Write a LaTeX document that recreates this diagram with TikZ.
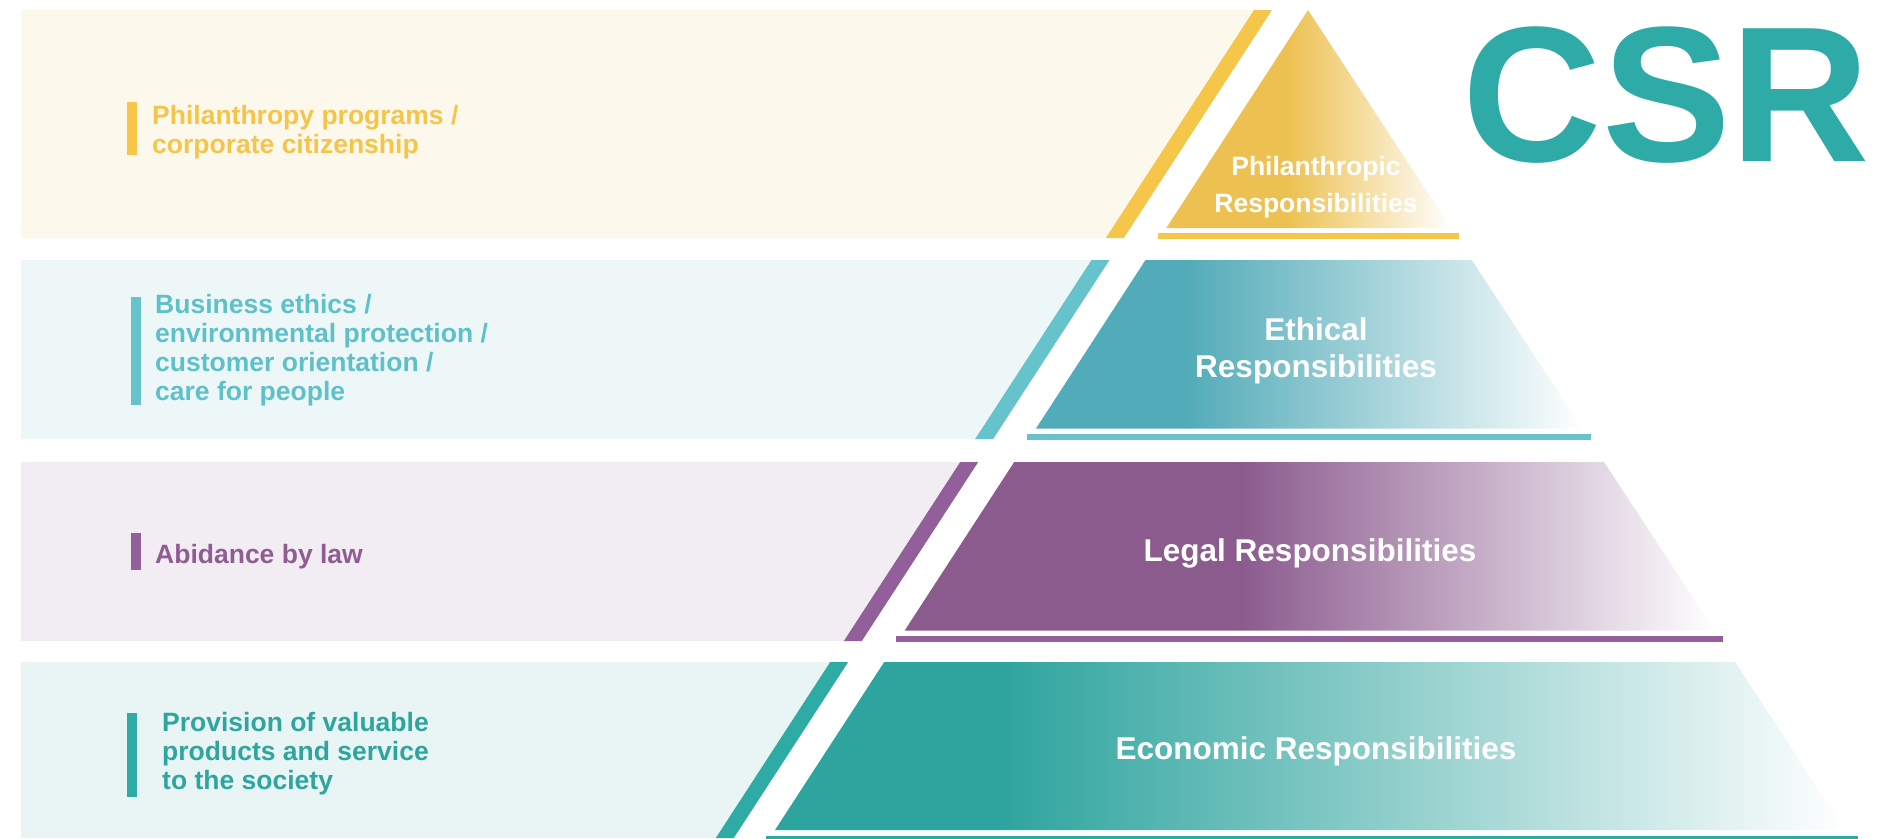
\documentclass[tikz,border=0pt]{standalone}
\usepackage{fontspec}
\setmainfont{Liberation Sans}
\definecolor{yelband}{HTML}{FCF8EC}
\definecolor{yelstripe}{HTML}{F6C64B}
\definecolor{yeltri}{HTML}{EDC151}
\definecolor{yeltext}{HTML}{F5C54A}
\definecolor{ethband}{HTML}{EEF7F8}
\definecolor{ethstripe}{HTML}{66C2CB}
\definecolor{ethtrap}{HTML}{52ABB8}
\definecolor{ethtext}{HTML}{5EC0C9}
\definecolor{legband}{HTML}{F2EDF3}
\definecolor{legstripe}{HTML}{935F9B}
\definecolor{legtrap}{HTML}{8B5B8E}
\definecolor{legtext}{HTML}{8F5D94}
\definecolor{ecoband}{HTML}{E9F4F4}
\definecolor{ecostripe}{HTML}{2EABA5}
\definecolor{ecotrap}{HTML}{2EA49E}
\definecolor{ecotext}{HTML}{2FA59F}
\definecolor{csrcol}{HTML}{2EABA7}
\begin{document}
\begin{tikzpicture}[x=1pt,y=-1pt,
  bandtext/.style={font=\fontsize{26.5}{29}\selectfont\bfseries, align=left, inner sep=0pt, anchor=west},
  tiertext/.style={font=\fontsize{31.5}{37.5}\selectfont\bfseries, text=white, align=center, inner sep=0pt},
  tagbar/.style={fill=#1}
]
\useasboundingbox (0,0) rectangle (1878,838);

% ---------- Tier 1: philanthropic ----------
\fill[yelband] (21,10) -- (1254,10) -- (1105.8,238) -- (21,238) -- cycle;
\fill[yelstripe] (1254,10) -- (1272,10) -- (1123.8,238) -- (1105.8,238) -- cycle;
\begin{scope}
  \clip (1308,10) -- (1450.8,228) -- (1166.3,228) -- cycle;
  \fill[yeltri] (1160,5) rectangle (1287,232);
  \shade[left color=yeltri,right color=white] (1287,5) rectangle (1452,232);
\end{scope}
\fill[yelstripe] (1158,233) rectangle (1459,238.5);

% ---------- Tier 2: ethical ----------
\fill[ethband] (21,260) -- (1091.5,260) -- (975.15,439) -- (21,439) -- cycle;
\fill[ethstripe] (1091.5,260) -- (1109.5,260) -- (993.15,439) -- (975.15,439) -- cycle;
\begin{scope}
  \clip (1145.5,260) -- (1471.75,260) -- (1582.1,428.5) -- (1035.97,428.5) -- cycle;
  \fill[ethtrap] (1030,255) rectangle (1185,433);
  \shade[left color=ethtrap,right color=white] (1185,255) rectangle (1584,433);
\end{scope}
\fill[ethstripe] (1027,434) rectangle (1591,439.5);

% ---------- Tier 3: legal ----------
\fill[legband] (21,462) -- (960.2,462) -- (843.85,641) -- (21,641) -- cycle;
\fill[legstripe] (960.2,462) -- (978.2,462) -- (861.85,641) -- (843.85,641) -- cycle;
\begin{scope}
  \clip (1014.2,462) -- (1604.06,462) -- (1714.43,630.5) -- (904.67,630.5) -- cycle;
  \fill[legtrap] (900,457) rectangle (1240,635);
  \shade[left color=legtrap,right color=white] (1240,457) rectangle (1716,635);
\end{scope}
\fill[legstripe] (896,636) rectangle (1723,641.5);

% ---------- Tier 4: economic ----------
\fill[ecoband] (21,662) -- (830.2,662) -- (715.8,838) -- (21,838) -- cycle;
\fill[ecostripe] (830.2,662) -- (848.2,662) -- (733.8,838) -- (715.8,838) -- cycle;
\begin{scope}
  \clip (884.2,662) -- (1735.06,662) -- (1845.1,830) -- (775,830) -- cycle;
  \fill[ecotrap] (770,657) rectangle (1000,835);
  \shade[left color=ecotrap,right color=white] (1000,657) rectangle (1847,835);
\end{scope}
\fill[ecostripe] (766,836) rectangle (1858,841);

% ---------- left tag bars ----------
\fill[tagbar=yelstripe] (127,102) rectangle (137,155);
\fill[tagbar=ethstripe] (131,297) rectangle (141,405);
\fill[tagbar=legstripe] (131,533) rectangle (141,570);
\fill[tagbar=ecostripe] (127,713) rectangle (137,797);

% ---------- left texts ----------
\node[bandtext, text=yeltext] (t1) at (152,132) {Philanthropy programs /\\corporate citizenship};
\node[bandtext, text=ethtext] (t2) at (155,350) {Business ethics /\\environmental protection /\\customer orientation /\\care for people};
\node[bandtext, text=legtext, anchor=base west] (t3) at (155,563) {Abidance by law};
\node[bandtext, text=ecotext] (t4) at (162,754) {Provision of valuable\\products and service\\to the society};

% ---------- pyramid labels ----------
\node[tiertext, font=\fontsize{26.5}{37}\selectfont\bfseries] (p1) at (1316,187.6) {Philanthropic\\Responsibilities};
\node[tiertext] (p2) at (1316,351) {Ethical\\Responsibilities};
\node[tiertext, anchor=base] (p3) at (1310,561) {Legal Responsibilities};
\node[tiertext, anchor=base] (p4) at (1316,759) {Economic Responsibilities};

% ---------- title ----------
\node[font=\fontsize{193}{193}\selectfont\bfseries, text=csrcol, inner sep=0pt, anchor=base west] (csr) at (1462.5,161) {CSR};
\end{tikzpicture}
\end{document}
